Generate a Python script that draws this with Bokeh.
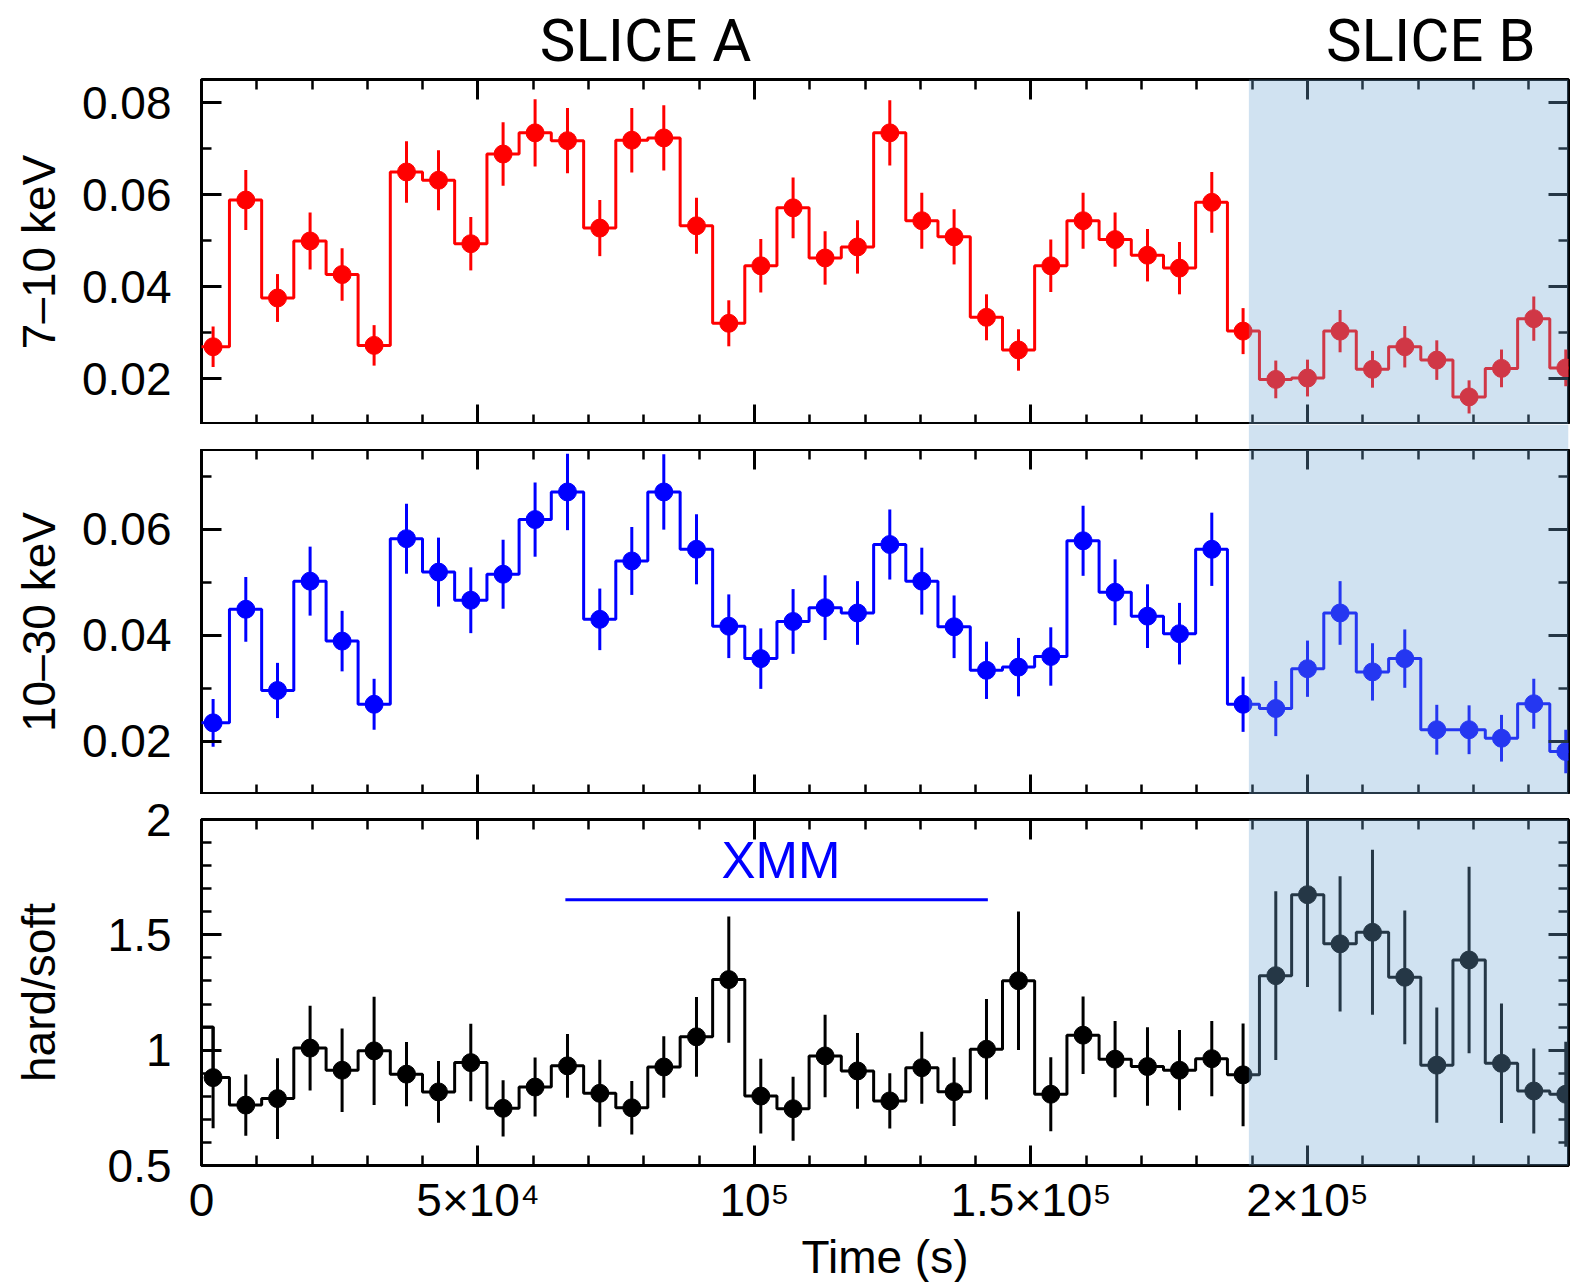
from bokeh.plotting import figure
from bokeh.layouts import column
from bokeh.models import BoxAnnotation, FixedTicker, LinearAxis, Range1d, Label
from bokeh.embed import file_html
from bokeh.resources import INLINE

# ---------------- data ----------------
time_s = [2098, 8011, 13743, 19638, 25425, 31212, 37071, 42857, 48698, 54539,
          60325, 66184, 72025, 77812, 83599, 89512, 95353, 101139, 106980, 112767,
          118626, 124467, 130253, 136094, 141953, 147740, 153580, 159421, 165208, 171067,
          176854, 182694, 188354, 194268, 200000, 205895, 211754, 217595, 223382, 229222,
          235081, 240922, 246709]

soft_rate = [0.0269, 0.0588, 0.0375, 0.0499, 0.0426, 0.0272, 0.0649, 0.0631, 0.0493, 0.0688,
             0.0734, 0.0717, 0.0527, 0.0718, 0.0723, 0.0532, 0.0320, 0.0445, 0.0571, 0.0462,
             0.0486, 0.0734, 0.0543, 0.0508, 0.0333, 0.0262, 0.0445, 0.0543, 0.0502, 0.0468,
             0.0440, 0.0583, 0.0303, 0.0198, 0.0201, 0.0303, 0.0220, 0.0269, 0.0240, 0.0160,
             0.0222, 0.0330, 0.0223]
soft_err = [0.0044, 0.0065, 0.0052, 0.0062, 0.0057, 0.0044, 0.0067, 0.0065, 0.0058, 0.0069,
            0.0073, 0.0071, 0.0061, 0.0070, 0.0071, 0.0061, 0.0050, 0.0058, 0.0066, 0.0058,
            0.0058, 0.0071, 0.0061, 0.0060, 0.0050, 0.0045, 0.0057, 0.0061, 0.0059, 0.0057,
            0.0057, 0.0066, 0.0050, 0.0041, 0.0040, 0.0046, 0.0040, 0.0045, 0.0043, 0.0036,
            0.0041, 0.0048, 0.0040]

hard_rate = [0.0235, 0.0449, 0.0296, 0.0502, 0.0389, 0.0270, 0.0582, 0.0519, 0.0466, 0.0515,
             0.0618, 0.0670, 0.0430, 0.0540, 0.0670, 0.0562, 0.0417, 0.0356, 0.0426, 0.0452,
             0.0442, 0.0571, 0.0502, 0.0416, 0.0334, 0.0340, 0.0360, 0.0578, 0.0481, 0.0436,
             0.0403, 0.0562, 0.0270, 0.0262, 0.0337, 0.0442, 0.0331, 0.0356, 0.0222, 0.0222,
             0.0206, 0.0271, 0.0181]
hard_err = [0.0045, 0.0061, 0.0052, 0.0065, 0.0057, 0.0048, 0.0066, 0.0065, 0.0062, 0.0065,
            0.0070, 0.0072, 0.0058, 0.0064, 0.0071, 0.0066, 0.0060, 0.0057, 0.0061, 0.0061,
            0.0060, 0.0066, 0.0063, 0.0059, 0.0054, 0.0055, 0.0055, 0.0066, 0.0062, 0.0060,
            0.0058, 0.0069, 0.0052, 0.0052, 0.0053, 0.0060, 0.0054, 0.0055, 0.0047, 0.0046,
            0.0044, 0.0047, 0.0041]

ratio = [0.881, 0.762, 0.790, 1.009, 0.913, 0.997, 0.896, 0.819, 0.946, 0.748,
         0.840, 0.932, 0.813, 0.750, 0.927, 1.058, 1.306, 0.801, 0.746, 0.975,
         0.910, 0.780, 0.924, 0.820, 1.004, 1.301, 0.809, 1.065, 0.961, 0.929,
         0.913, 0.963, 0.893, 1.323, 1.674, 1.461, 1.511, 1.316, 0.935, 1.391,
         0.943, 0.823, 0.809]
ratio_err = [0.220, 0.133, 0.175, 0.184, 0.181, 0.235, 0.139, 0.134, 0.168, 0.122,
             0.128, 0.138, 0.145, 0.116, 0.133, 0.173, 0.274, 0.162, 0.139, 0.179,
             0.164, 0.120, 0.156, 0.149, 0.218, 0.300, 0.160, 0.168, 0.165, 0.170,
             0.174, 0.163, 0.223, 0.366, 0.400, 0.293, 0.358, 0.290, 0.250, 0.404,
             0.259, 0.184, 0.228]
ratio_lead = 1.10          # step level drawn before the first hardness bin

xmm_start, xmm_end, xmm_level = 65800, 142200, 1.652
slice_b_start = 189400
slice_titles = ["SLICE A", "SLICE B"]
slice_title_x = [80300, 222300]

x_ticks = [0, 50000, 100000, 150000, 200000]
x_tick_labels = ["0", "5×10⁴", "10⁵", "1.5×10⁵", "2×10⁵"]
y1_ticks = [0.02, 0.04, 0.06, 0.08]
y1_tick_labels = ["0.02", "0.04", "0.06", "0.08"]
y2_ticks = [0.02, 0.04, 0.06]
y2_tick_labels = ["0.02", "0.04", "0.06"]
y3_ticks = [0.5, 1.0, 1.5, 2.0]
y3_tick_labels = ["0.5", "1", "1.5", "2"]

# ---------------- styling ----------------
FONT = "Liberation Sans"
SHADE, SHADE_ALPHA = "#70a8d4", 0.33
W = 1571
LEFT, RIGHT = 201, 3
FRAME_W = W - LEFT - RIGHT
X_END = 247200

x_range = Range1d(0, X_END)
x_minor = list(range(0, 250001, 10000))


def step_path(t, v, lead=None):
    edges = [t[0] - (t[1] - t[0]) / 2]
    edges += [(a + b) / 2 for a, b in zip(t[:-1], t[1:])]
    edges += [t[-1] + (t[-1] - t[-2]) / 2]
    xs, ys = [], []
    for i, val in enumerate(v):
        left = edges[i]
        if i == 0 and lead is not None:
            xs += [edges[0], t[0]]
            ys += [lead, lead]
            left = t[0]
        xs += [left, edges[i + 1]]
        ys += [val, val]
    return xs, ys


def style_axis(ax, labels=True):
    ax.axis_line_color = None
    ax.major_tick_in, ax.major_tick_out = 20, 0
    ax.minor_tick_in, ax.minor_tick_out = 10, 0
    ax.major_tick_line_width = 3
    ax.minor_tick_line_width = 2.5
    ax.major_tick_line_color = "black"
    ax.minor_tick_line_color = "black"
    if labels:
        ax.major_label_text_font = FONT
        ax.major_label_text_font_size = "46px"
        ax.major_label_text_color = "black"
        ax.axis_label_text_font = FONT
        ax.axis_label_text_font_size = "46px"
        ax.axis_label_text_font_style = "normal"
        ax.axis_label_text_color = "black"
    else:
        ax.major_label_text_font_size = "1px"
        ax.major_label_text_color = None
        ax.major_label_text_alpha = 0
        ax.major_label_standoff = 0


def bare_figure(frame_h, top_b, bot_b, y0, y1, outline=True):
    p = figure(frame_width=FRAME_W, frame_height=frame_h,
               x_range=x_range, y_range=Range1d(y0, y1),
               output_backend="svg", toolbar_location=None,
               x_axis_location=None, y_axis_location=None,
               min_border_left=LEFT, min_border_right=RIGHT,
               min_border_top=top_b, min_border_bottom=bot_b,
               background_fill_color="white", border_fill_color="white",
               outline_line_color="black" if outline else None, outline_line_width=3)
    p.grid.visible = False
    return p


def make_panel(frame_h, top_b, bot_b, y0, y1, yticks, yminor, ylabels, ylabel,
               label_standoff, show_x):
    p = bare_figure(frame_h, top_b, bot_b, y0, y1)
    yt = FixedTicker(ticks=yticks, minor_ticks=yminor)
    xt = FixedTicker(ticks=x_ticks, minor_ticks=x_minor)

    left = LinearAxis(ticker=yt, axis_label=ylabel,
                      major_label_overrides=dict(zip(yticks, ylabels)))
    style_axis(left)
    left.major_label_standoff = 30
    left.axis_label_standoff = label_standoff
    p.add_layout(left, "left")

    right = LinearAxis(ticker=yt)
    style_axis(right, labels=False)
    p.add_layout(right, "right")

    above = LinearAxis(ticker=xt)
    style_axis(above, labels=False)
    p.add_layout(above, "above")

    below = LinearAxis(ticker=xt)
    if show_x:
        below.major_label_overrides = dict(zip(x_ticks, x_tick_labels))
        below.axis_label = "Time (s)"
        style_axis(below)
        below.major_label_standoff = 8
        below.axis_label_standoff = 2
    else:
        style_axis(below, labels=False)
    p.add_layout(below, "below")
    return p


def draw_series(p, t, v, e, color, lead=None):
    xs, ys = step_path(t, v, lead)
    p.line(xs, ys, line_width=3, color=color)
    p.segment(x0=t, y0=[a - b for a, b in zip(v, e)], x1=t,
              y1=[a + b for a, b in zip(v, e)], line_width=3, color=color)
    p.scatter(t, v, size=18, color=color)


def shade(top=None, bottom=None):
    return BoxAnnotation(left=slice_b_start, top=top, bottom=bottom,
                         fill_color=SHADE, fill_alpha=SHADE_ALPHA,
                         line_color=None, level="overlay")


# ---------------- header with slice titles ----------------
HEADER_H = 76
header = bare_figure(HEADER_H, 0, 0, 0, 1, outline=False)
for txt, xc in zip(slice_titles, slice_title_x):
    header.add_layout(Label(x=xc, y=(HEADER_H - 40) / HEADER_H, text=txt,
                            text_align="center", text_baseline="middle",
                            text_font="Roboto", text_font_size="60px",
                            text_color="black"))

# ---------------- panel 1 ----------------
FH = 345
p1 = make_panel(FH, 3, 0, 0.01, 0.085, y1_ticks,
                [round(0.01 * k, 2) for k in range(1, 9)], y1_tick_labels,
                "7–10 keV", 14, False)
draw_series(p1, time_s, soft_rate, soft_err, "#ff0000")
upp1 = (0.085 - 0.01) / FH
p1.add_layout(shade(top=0.085 + 3 * upp1))

# ---------------- gap ----------------
gap = bare_figure(25, 0, 0, 0, 1, outline=False)
gap.add_layout(shade())

# ---------------- panel 2 ----------------
p2 = make_panel(FH, 0, 0, 0.01, 0.075, y2_ticks,
                [round(0.01 * k, 2) for k in range(1, 8)], y2_tick_labels,
                "10–30 keV", 14, False)
draw_series(p2, time_s, hard_rate, hard_err, "#0000ff")
p2.add_layout(shade())

# ---------------- panel 3 ----------------
p3 = make_panel(346, 25, 117, 0.5, 2.0, y3_ticks,
                [round(0.5 + 0.1 * k, 1) for k in range(16)], y3_tick_labels,
                "hard/soft", 40, True)
draw_series(p3, time_s, ratio, ratio_err, "black", lead=ratio_lead)
p3.line([xmm_start, xmm_end], [xmm_level, xmm_level], line_width=3, color="#0000ff")
p3.add_layout(Label(x=(xmm_start + xmm_end) / 2 + 800, y=1.824, text="XMM",
                    text_align="center", text_baseline="middle",
                    text_font=FONT, text_font_size="51px", text_color="#0000ff"))
upp3 = 1.5 / 346
p3.add_layout(shade(top=2.0 + 25 * upp3, bottom=0.5 - 3 * upp3))

layout = column(header, p1, gap, p2, p3, spacing=0)
open("out.html", "w").write(file_html(layout, INLINE))
